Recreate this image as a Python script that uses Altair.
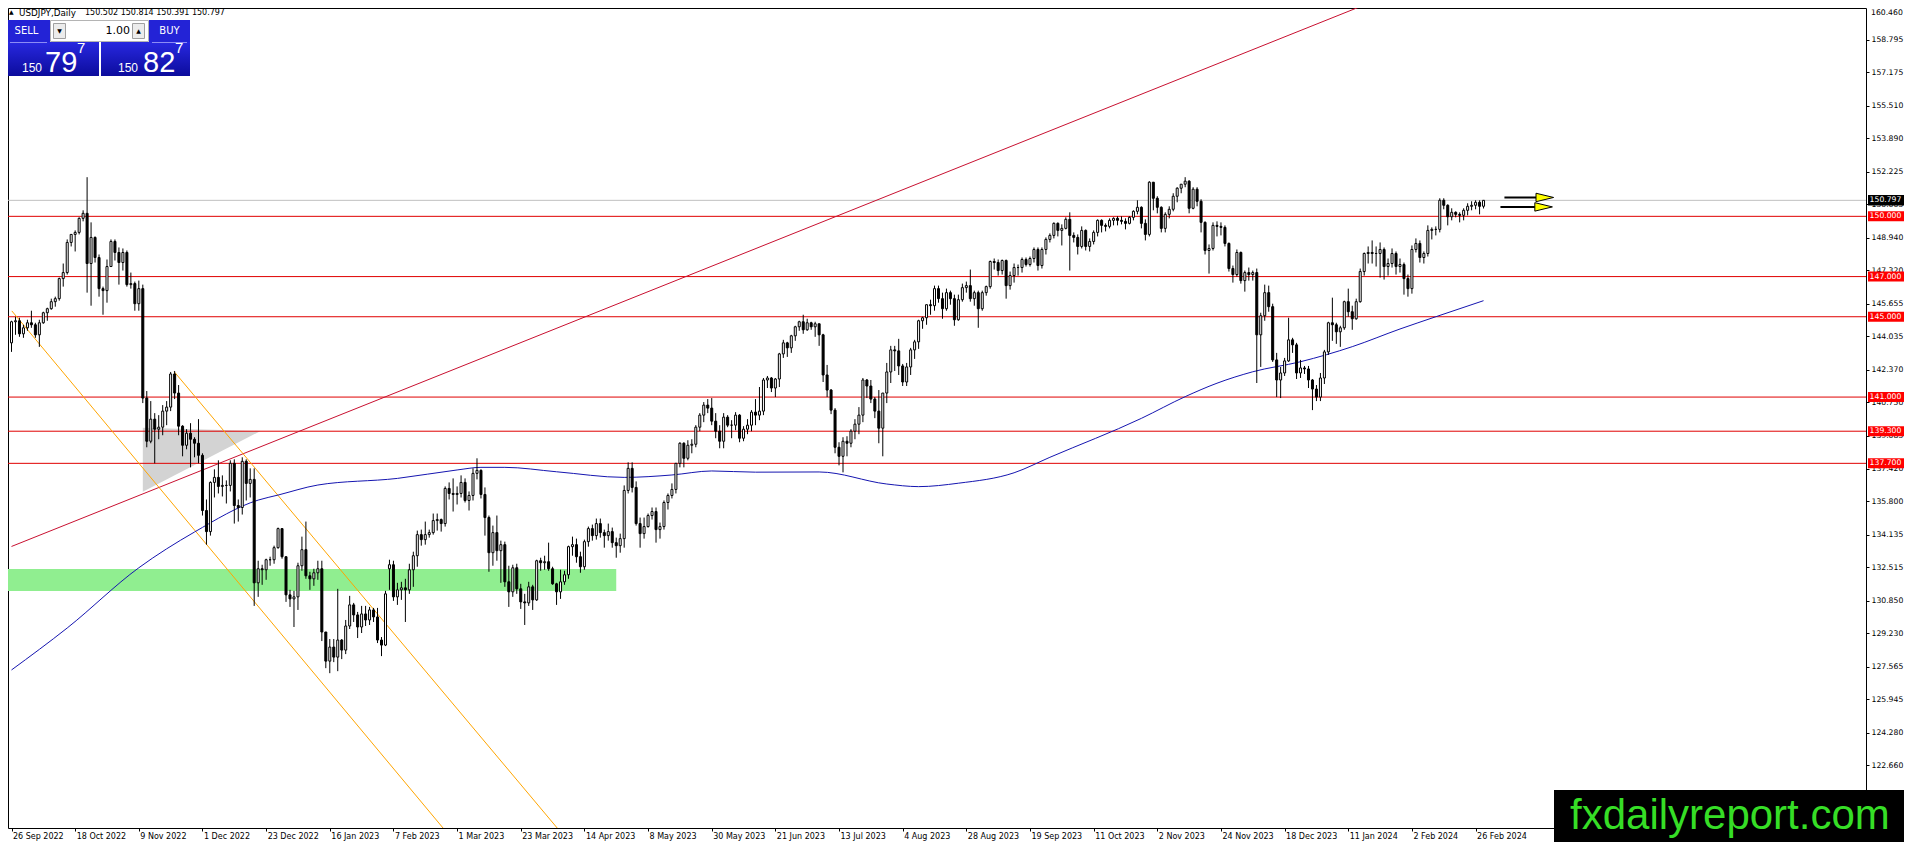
import altair as alt
import pandas as pd

# ---------------- data ----------------
opens = [
    143.70, 144.75, 144.80, 144.15, 144.45, 144.70, 144.60, 144.10, 144.70, 145.20,
    145.40, 145.75, 145.90, 146.90, 147.20, 148.70, 149.10, 149.20, 149.90, 150.15,
    147.65, 148.95, 147.95, 146.40, 146.30, 147.50, 148.75, 148.20, 147.70, 148.20,
    146.60, 146.65, 145.65, 146.40, 140.95, 138.80, 139.90, 139.40, 139.50, 140.30,
    140.50, 142.15, 141.20, 139.55, 138.60, 139.20, 138.90, 138.70, 138.10, 135.35,
    134.30, 136.75, 137.00, 136.55, 136.60, 136.60, 137.70, 135.60, 135.50, 137.80,
    136.70, 136.90, 131.75, 132.45, 132.40, 132.90, 132.90, 133.50, 134.45, 133.05,
    131.15, 130.95, 131.05, 132.60, 133.40, 132.10, 131.95, 132.25, 132.45, 129.30,
    127.85, 128.55, 128.05, 128.90, 128.40, 129.60, 130.65, 130.15, 129.55, 130.20,
    129.90, 130.40, 130.05, 128.90, 128.65, 132.45, 132.65, 131.05, 131.40, 131.50,
    131.40, 132.40, 133.10, 134.15, 133.90, 134.15, 134.25, 134.85, 134.90, 134.70,
    136.45, 136.20, 136.15, 136.20, 136.75, 135.85, 136.10, 137.20, 137.35, 136.15,
    135.00, 133.25, 134.25, 133.35, 133.65, 131.80, 131.30, 132.50, 131.45, 130.80,
    130.75, 131.55, 130.90, 132.85, 132.75, 132.80, 132.45, 131.70, 131.30, 131.80,
    132.15, 133.55, 133.65, 133.05, 132.55, 133.80, 134.45, 134.10, 134.70, 134.25,
    134.10, 134.30, 133.75, 133.60, 133.95, 136.35, 137.45, 136.50, 134.70, 134.20,
    134.55, 135.10, 135.30, 134.40, 134.55, 135.75, 136.10, 136.40, 137.70, 138.70,
    137.95, 138.60, 138.65, 139.50, 140.10, 140.60, 140.45, 139.80, 139.30, 138.80,
    140.00, 139.60, 139.60, 140.10, 138.95, 139.40, 139.60, 140.25, 140.10, 140.30,
    141.85, 141.95, 141.45, 141.90, 143.15, 143.70, 143.45, 144.05, 144.50, 144.75,
    144.35, 144.70, 144.50, 144.65, 144.10, 142.10, 141.35, 140.35, 138.50, 138.05,
    138.80, 138.70, 139.30, 139.65, 140.10, 141.85, 141.55, 140.90, 140.30, 139.45,
    141.20, 142.25, 143.35, 143.30, 142.55, 141.75, 142.50, 143.35, 143.75, 144.80,
    144.95, 145.60, 145.55, 146.40, 145.90, 145.40, 146.20, 145.90, 144.85, 145.85,
    146.45, 146.55, 145.90, 146.20, 145.40, 146.20, 146.50, 147.75, 147.70, 147.30,
    147.80, 146.55, 147.05, 147.45, 147.45, 147.85, 147.60, 147.90, 148.35, 147.55,
    148.35, 148.85, 149.05, 149.65, 149.30, 149.40, 149.85, 149.05, 148.95, 148.50,
    149.30, 148.50, 148.75, 149.20, 149.80, 149.55, 149.50, 149.80, 149.90, 149.80,
    149.75, 149.65, 149.95, 150.25, 150.45, 149.65, 149.10, 151.70, 150.90, 150.45,
    149.40, 150.10, 150.35, 151.00, 151.40, 151.60, 151.75, 150.40, 151.35, 150.75,
    149.70, 148.30, 148.40, 149.55, 149.50, 149.45, 148.65, 147.40, 147.10, 148.20,
    146.80, 147.20, 147.10, 147.20, 144.10, 145.05, 146.20, 145.50, 142.85, 141.85,
    142.20, 142.80, 143.85, 143.60, 142.20, 142.45, 142.40, 141.85, 141.40, 141.00,
    141.95, 143.25, 144.70, 144.60, 144.25, 144.45, 145.75, 145.25, 144.90, 145.75,
    147.25, 148.15, 148.20, 148.15, 148.15, 148.35, 147.50, 147.65, 148.15, 147.50,
    147.60, 146.90, 146.40, 148.35, 148.65, 147.95, 148.15, 149.30, 149.35, 149.35,
    150.80, 150.55, 149.98, 150.20, 150.10, 150.05, 150.30, 150.50, 150.55, 150.70, 150.502,
]
highs = [
    144.80, 145.00, 144.95, 144.60, 144.85, 145.30, 144.70, 144.85, 145.25, 145.45,
    145.90, 146.00, 146.95, 147.65, 148.85, 149.10, 149.30, 149.95, 150.30, 151.95,
    149.70, 149.00, 148.10, 146.50, 147.85, 148.85, 148.85, 148.45, 148.40, 148.30,
    147.20, 146.75, 146.80, 146.60, 141.30, 140.80, 140.20, 140.10, 140.60, 140.80,
    142.25, 142.30, 141.60, 139.60, 139.40, 139.70, 139.00, 139.90, 138.20, 135.90,
    136.80, 137.40, 137.85, 137.10, 136.85, 137.85, 137.90, 135.90, 138.00, 137.90,
    137.45, 137.45, 132.85, 132.65, 132.95, 133.05, 133.60, 134.50, 134.45, 133.05,
    131.40, 131.35, 132.75, 134.05, 134.80, 132.30, 132.45, 132.85, 132.85, 129.30,
    128.95, 128.95, 131.45, 128.95, 129.90, 131.10, 130.75, 130.30, 130.60, 130.60,
    130.55, 130.50, 130.50, 129.05, 131.35, 132.90, 132.85, 131.75, 131.80, 131.95,
    132.70, 133.30, 134.35, 134.40, 134.80, 134.40, 135.20, 135.20, 134.95, 136.55,
    136.75, 136.95, 136.55, 137.10, 136.95, 136.30, 137.45, 137.95, 137.40, 136.50,
    135.10, 134.60, 135.10, 133.85, 133.80, 132.60, 132.65, 132.70, 131.70, 131.20,
    131.80, 131.65, 132.90, 133.00, 133.10, 133.75, 132.55, 131.75, 132.40, 132.35,
    133.60, 134.05, 133.95, 133.30, 133.90, 134.55, 134.65, 134.95, 134.95, 134.40,
    134.70, 134.50, 134.00, 134.20, 136.60, 137.75, 137.75, 136.80, 135.00, 135.00,
    135.20, 135.50, 135.50, 134.75, 135.85, 136.20, 136.70, 137.70, 138.75, 138.75,
    138.85, 138.90, 139.60, 140.20, 140.75, 140.90, 140.95, 140.20, 139.60, 140.20,
    140.10, 139.85, 140.25, 140.15, 139.55, 139.90, 140.35, 140.90, 141.50, 141.95,
    142.05, 142.00, 141.95, 143.20, 143.85, 143.75, 144.10, 144.55, 144.80, 145.10,
    144.90, 144.75, 144.75, 144.65, 144.15, 142.60, 141.40, 140.45, 138.75, 139.00,
    139.05, 139.40, 139.90, 140.50, 141.95, 141.90, 141.85, 141.00, 141.35, 141.20,
    142.70, 143.55, 143.55, 143.90, 142.65, 142.70, 143.45, 143.85, 144.85, 145.00,
    145.60, 145.85, 146.55, 146.55, 146.20, 146.40, 146.30, 146.10, 146.10, 146.65,
    146.75, 147.35, 146.30, 146.30, 146.30, 146.55, 147.80, 147.90, 147.85, 147.85,
    147.85, 147.25, 147.65, 147.60, 147.95, 147.95, 148.00, 148.45, 148.45, 148.45,
    148.95, 149.15, 149.70, 149.70, 149.60, 149.95, 150.20, 149.20, 149.10, 149.50,
    149.35, 148.90, 149.30, 149.85, 149.85, 149.65, 149.90, 149.95, 150.00, 150.00,
    149.90, 150.00, 150.30, 150.80, 150.50, 149.85, 151.75, 151.70, 151.00, 150.50,
    150.20, 150.50, 151.15, 151.45, 151.60, 151.95, 151.80, 151.45, 151.45, 150.85,
    149.75, 148.60, 149.70, 149.75, 149.70, 149.55, 148.70, 147.55, 148.35, 148.25,
    147.30, 147.45, 147.30, 147.40, 145.20, 146.60, 146.55, 145.65, 143.20, 142.50,
    142.95, 144.95, 143.95, 143.70, 142.85, 142.55, 142.55, 141.90, 141.60, 142.20,
    143.35, 144.75, 145.95, 144.70, 144.55, 145.80, 146.40, 145.55, 145.90, 147.40,
    148.20, 148.50, 148.80, 148.50, 148.70, 148.45, 147.90, 148.40, 148.25, 147.90,
    147.70, 147.10, 148.55, 148.90, 148.80, 148.25, 149.55, 149.45, 149.50, 150.90,
    150.90, 150.60, 150.40, 150.25, 150.20, 150.40, 150.65, 150.75, 150.80, 150.80, 150.814,
]
lows = [
    143.25, 144.10, 144.00, 143.95, 144.30, 144.45, 143.95, 143.50, 144.65, 144.80,
    145.35, 145.50, 145.80, 146.50, 147.10, 148.50, 148.25, 149.10, 149.75, 146.20,
    145.55, 147.70, 146.00, 145.10, 145.70, 147.50, 147.80, 146.60, 147.30, 146.50,
    146.40, 145.30, 145.30, 140.70, 138.50, 138.70, 137.70, 138.90, 139.10, 139.60,
    140.30, 140.90, 139.10, 138.05, 138.40, 137.50, 138.00, 137.70, 135.10, 133.65,
    134.10, 136.00, 136.20, 136.05, 135.70, 136.30, 134.70, 134.80, 135.15, 135.85,
    136.00, 130.60, 131.05, 131.65, 131.90, 132.60, 132.70, 133.45, 132.95, 130.80,
    130.55, 129.55, 130.40, 132.35, 131.95, 131.40, 131.60, 131.90, 128.85, 127.50,
    127.25, 127.80, 127.35, 127.95, 128.20, 129.45, 129.80, 129.00, 129.25, 129.60,
    129.65, 129.80, 128.75, 128.10, 128.60, 131.40, 130.85, 130.65, 130.90, 129.80,
    131.20, 131.55, 132.55, 133.60, 133.65, 134.00, 134.15, 134.35, 134.30, 134.55,
    135.90, 135.30, 135.65, 136.00, 135.75, 135.35, 135.85, 136.90, 135.95, 134.10,
    132.30, 132.60, 132.85, 131.75, 131.55, 130.55, 131.05, 131.20, 130.45, 129.65,
    130.60, 130.40, 130.85, 132.35, 132.40, 132.35, 131.65, 130.65, 130.95, 131.65,
    131.95, 133.10, 132.75, 132.25, 132.40, 133.55, 133.85, 133.90, 134.00, 133.50,
    133.85, 133.50, 133.00, 133.25, 133.50, 136.20, 136.25, 134.60, 133.50, 133.95,
    134.50, 134.90, 133.75, 133.95, 134.40, 135.40, 135.95, 136.20, 137.50, 137.50,
    137.85, 138.20, 138.50, 139.30, 139.75, 140.20, 139.60, 138.95, 138.45, 138.45,
    139.50, 138.95, 139.35, 138.75, 138.80, 139.15, 139.30, 139.60, 139.85, 140.10,
    141.45, 141.25, 141.00, 141.50, 142.95, 143.00, 143.20, 143.80, 144.30, 144.15,
    144.30, 144.35, 144.00, 143.55, 141.75, 141.00, 140.15, 138.20, 137.60, 137.25,
    138.05, 138.50, 138.90, 139.15, 139.75, 140.95, 140.70, 139.95, 138.70, 138.05,
    140.70, 141.70, 142.30, 142.10, 141.55, 141.55, 142.10, 142.90, 143.40, 144.40,
    144.60, 145.10, 145.30, 145.70, 144.90, 145.30, 145.60, 144.55, 144.80, 145.75,
    146.20, 145.75, 145.55, 144.45, 145.30, 146.05, 146.40, 147.35, 147.05, 147.10,
    145.90, 146.35, 146.70, 147.05, 147.20, 147.50, 147.50, 147.70, 147.30, 147.40,
    148.10, 148.70, 148.90, 149.00, 148.55, 149.35, 147.30, 148.70, 148.10, 148.40,
    148.30, 148.25, 148.60, 149.00, 149.20, 149.25, 149.40, 149.55, 149.55, 149.60,
    149.35, 149.60, 149.80, 150.10, 149.40, 148.80, 149.00, 150.30, 150.15, 149.20,
    149.20, 149.90, 150.25, 150.70, 151.15, 151.45, 150.15, 150.35, 150.50, 149.20,
    148.10, 147.15, 148.30, 149.00, 149.05, 148.50, 147.25, 146.70, 147.00, 146.65,
    146.25, 146.80, 146.80, 141.70, 142.50, 144.80, 145.25, 142.75, 141.00, 140.95,
    142.05, 142.75, 143.20, 141.90, 141.95, 142.15, 141.45, 140.35, 140.80, 140.80,
    141.65, 143.10, 143.80, 143.65, 143.50, 144.35, 145.00, 144.35, 144.85, 145.70,
    147.05, 147.65, 147.65, 147.50, 146.95, 146.85, 147.05, 147.45, 147.10, 147.20,
    146.10, 146.00, 146.15, 148.20, 147.70, 147.65, 148.00, 148.85, 149.05, 149.20,
    150.35, 149.55, 149.80, 149.95, 149.70, 149.80, 150.05, 150.30, 150.35, 150.10, 150.391,
]
closes = [
    144.75, 144.80, 144.15, 144.45, 144.70, 144.60, 144.10, 144.70, 145.20, 145.40,
    145.75, 145.90, 146.90, 147.20, 148.70, 149.10, 149.20, 149.90, 150.15, 147.65,
    148.95, 147.95, 146.40, 146.30, 147.50, 148.75, 148.20, 147.70, 148.20, 146.60,
    146.65, 145.65, 146.40, 140.95, 138.80, 139.90, 139.40, 139.50, 140.30, 140.50,
    142.15, 141.20, 139.55, 138.60, 139.20, 138.90, 138.70, 138.10, 135.35, 134.30,
    136.75, 137.00, 136.55, 136.60, 136.60, 137.70, 135.60, 135.50, 137.80, 136.70,
    136.90, 131.75, 132.45, 132.40, 132.90, 132.90, 133.50, 134.45, 133.05, 131.15,
    130.95, 131.05, 132.60, 133.40, 132.10, 131.95, 132.25, 132.45, 129.30, 127.85,
    128.55, 128.05, 128.90, 128.40, 129.60, 130.65, 130.15, 129.55, 130.20, 129.90,
    130.40, 130.05, 128.90, 128.65, 131.20, 132.65, 131.05, 131.40, 131.50, 131.40,
    132.40, 133.10, 134.15, 133.90, 134.15, 134.25, 134.85, 134.90, 134.70, 136.45,
    136.20, 136.15, 136.20, 136.75, 135.85, 136.10, 137.20, 137.35, 136.15, 135.00,
    133.25, 134.25, 133.35, 133.65, 131.80, 131.30, 132.50, 131.45, 130.80, 130.75,
    131.55, 130.90, 132.85, 132.75, 132.80, 132.45, 131.70, 131.30, 131.80, 132.15,
    133.55, 133.65, 133.05, 132.55, 133.80, 134.45, 134.10, 134.70, 134.25, 134.10,
    134.30, 133.75, 133.60, 133.95, 136.35, 137.45, 136.50, 134.70, 134.20, 134.55,
    135.10, 135.30, 134.40, 134.55, 135.75, 136.10, 136.40, 137.70, 138.70, 137.95,
    138.60, 138.65, 139.50, 140.10, 140.60, 140.45, 139.80, 139.30, 138.80, 140.00,
    139.60, 139.60, 140.10, 138.95, 139.40, 139.60, 140.25, 140.10, 140.30, 141.85,
    141.95, 141.45, 141.90, 143.15, 143.70, 143.45, 144.05, 144.50, 144.75, 144.35,
    144.70, 144.50, 144.65, 144.10, 142.10, 141.35, 140.35, 138.50, 138.05, 138.80,
    138.70, 139.30, 139.65, 140.10, 141.85, 141.55, 140.90, 140.30, 139.45, 141.20,
    142.25, 143.35, 143.30, 142.55, 141.75, 142.50, 143.35, 143.75, 144.80, 144.95,
    145.60, 145.55, 146.40, 145.90, 145.40, 146.20, 145.90, 144.85, 145.85, 146.45,
    146.55, 145.90, 146.20, 145.40, 146.20, 146.50, 147.75, 147.70, 147.30, 147.80,
    146.55, 147.05, 147.45, 147.45, 147.85, 147.60, 147.90, 148.35, 147.55, 148.35,
    148.85, 149.05, 149.65, 149.30, 149.40, 149.85, 149.05, 148.95, 148.50, 149.30,
    148.50, 148.75, 149.20, 149.80, 149.55, 149.50, 149.80, 149.90, 149.80, 149.75,
    149.65, 149.95, 150.25, 150.45, 149.65, 149.10, 151.70, 150.90, 150.45, 149.40,
    150.10, 150.35, 151.00, 151.40, 151.60, 151.75, 150.40, 151.35, 150.75, 149.70,
    148.30, 148.40, 149.55, 149.50, 149.45, 148.65, 147.40, 147.10, 148.20, 146.80,
    147.20, 147.10, 147.20, 144.10, 145.05, 146.20, 145.50, 142.85, 141.85, 142.20,
    142.80, 143.85, 143.60, 142.20, 142.45, 142.40, 141.85, 141.40, 141.00, 141.95,
    143.25, 144.70, 144.60, 144.25, 144.45, 145.75, 145.25, 144.90, 145.75, 147.25,
    148.15, 148.20, 148.15, 148.15, 148.35, 147.50, 147.65, 148.15, 147.50, 147.60,
    146.90, 146.40, 148.35, 148.65, 147.95, 148.15, 149.30, 149.35, 149.35, 150.80,
    150.55, 149.98, 150.20, 150.10, 150.05, 150.30, 150.50, 150.55, 150.70, 150.50, 150.797,
]

# x-axis (bar index of each date label)
date_tick_bars = [0, 16, 32, 48, 64, 80, 96, 112, 128, 144, 160, 176,
                  192, 208, 224, 240, 256, 272, 288, 304, 320, 336, 352, 368]
date_labels = ["26 Sep 2022", "18 Oct 2022", "9 Nov 2022", "1 Dec 2022", "23 Dec 2022",
               "16 Jan 2023", "7 Feb 2023", "1 Mar 2023", "23 Mar 2023", "14 Apr 2023",
               "8 May 2023", "30 May 2023", "21 Jun 2023", "13 Jul 2023", "4 Aug 2023",
               "28 Aug 2023", "19 Sep 2023", "11 Oct 2023", "2 Nov 2023", "24 Nov 2023",
               "18 Dec 2023", "11 Jan 2024", "2 Feb 2024", "26 Feb 2024"]
top_price_label = 160.460
price_ticks = [158.795, 157.175, 155.510, 153.890, 152.225, 150.605, 148.940,
               147.320, 145.655, 144.035, 142.370, 140.750, 139.085, 137.420, 135.800,
               134.135, 132.515, 130.850, 129.230, 127.565, 125.945, 124.280, 122.660]

# moving average (read at sampled bars)
ma_bar = [0, 14, 32, 46, 62, 67, 77, 97, 112, 118, 124, 137, 154, 166, 176, 187, 203,
          220, 228, 238, 252, 261, 284, 295, 303, 312, 324, 337, 349, 358, 370]
ma_val = [127.41, 129.50, 132.50, 134.28, 135.87, 136.12, 136.62, 136.95, 137.37, 137.50,
          137.50, 137.28, 137.00, 137.12, 137.32, 137.26, 137.27, 136.67, 136.54, 136.71,
          137.23, 138.00, 139.94, 141.02, 141.69, 142.26, 142.76, 143.51, 144.39, 145.00, 145.80]

# drawn objects
levels = [150.000, 147.000, 145.000, 141.000, 139.300, 137.700]
bid_price = 150.797
red_trend_bar = [0, 345]
red_trend_price = [133.56, 160.92]
orange1_bar = [0.08, 112]
orange1_price = [145.29, 118.70]
orange2_bar = [40.9, 140]
orange2_price = [142.26, 118.87]
zone_bar = [-1, 152]
zone_price = [131.34, 132.44]
tri_bar = [33, 62.6]
tri_top = [139.47, 139.31]
tri_bottom = [136.29, 139.31]
arrow_price = [150.94, 150.47]
arrow_start = [375.25, 374.25]
arrow_end = [383.4, 383.4]
arrow_head = [385.4, 385.1]

header_symbol = "USDJPY,Daily"
header_ohlc = "150.502 150.814 150.391 150.797"

# ---------------- scales / axes ----------------
xs = alt.Scale(domain=[0.375, 464.875], nice=False, zero=False)
ys = alt.Scale(domain=[119.54, 160.375], nice=False, zero=False)

label_array = "[" + ",".join("'" + d + "'" for d in date_labels) + "]"
x_axis = alt.Axis(values=date_tick_bars, labelExpr=label_array + "[round(datum.value/16)]",
                  labelAlign="left", labelBaseline="top", labelOffset=1, labelPadding=1,
                  labelFont="DejaVu Sans", labelFontSize=8, labelColor="black",
                  tickColor="black", tickSize=3, domain=False, grid=False, title=None,
                  labelFlush=False, labelOverlap=False)
y_axis = alt.Axis(orient="right", values=price_ticks, format=".3f",
                  labelFont="DejaVu Sans", labelFontSize=7.7, labelColor="black",
                  tickColor="black", tickSize=3, labelPadding=2, domain=False, grid=False,
                  title=None, labelOverlap=False, labelFlush=False)


def X(f):
    return alt.X(f, type="quantitative", scale=xs, axis=x_axis)


def Y(f):
    return alt.Y(f, type="quantitative", scale=ys, axis=y_axis)


one = pd.DataFrame({"a": [0]})


def txt(s, x, y, size, color="black", font="DejaVu Sans", align="left", baseline="middle"):
    return alt.Chart(one).mark_text(align=align, baseline=baseline, font=font,
                                    fontSize=size, color=color).encode(
        x=alt.value(x), y=alt.value(y), text=alt.value(s))


def box(x1, x2, y1, y2, fill, stroke="none"):
    return alt.Chart(one).mark_rect(fill=fill, stroke=stroke, strokeWidth=1).encode(
        x=alt.value(x1), x2=alt.value(x2), y=alt.value(y1), y2=alt.value(y2))


def hline(x1, x2, y, color, w=1):
    return alt.Chart(one).mark_rule(color=color, strokeWidth=w).encode(
        x=alt.value(x1), x2=alt.value(x2), y=alt.value(y))


# ---------------- frames ----------------
n = len(closes)
assert len(opens) == n and len(highs) == n and len(lows) == n
cdf = pd.DataFrame({"i": list(range(n)), "o": opens, "h": highs, "l": lows, "c": closes})
ma_df = pd.DataFrame({"i": ma_bar, "p": ma_val})
zone_df = pd.DataFrame({"x0": [zone_bar[0]], "x1": [zone_bar[1]],
                        "p0": [zone_price[0]], "p1": [zone_price[1]]})
tri_df = pd.DataFrame({"i": tri_bar, "top": tri_top, "bot": tri_bottom})
lvl_df = pd.DataFrame({"p": levels})
lvl_df["lo"] = lvl_df["p"] - 0.25
lvl_df["hi"] = lvl_df["p"] + 0.25
bid_df = pd.DataFrame({"p": [bid_price]})
bid_df["lo"] = bid_df["p"] - 0.26
bid_df["hi"] = bid_df["p"] + 0.26
arrow_df = pd.DataFrame({"p": arrow_price, "a": arrow_start, "b": arrow_end, "h": arrow_head})
top_df = pd.DataFrame({"p": [top_price_label]})


def seg(bars, prices):
    return pd.DataFrame({"i": bars, "p": prices})


layers = []
layers.append(alt.Chart(zone_df).mark_rect(color="#90ee90", clip=True).encode(
    x=X("x0"), x2="x1", y=Y("p0"), y2="p1"))
layers.append(alt.Chart(tri_df).mark_area(color="#d3d3d3", clip=True).encode(
    x=X("i"), y=Y("top"), y2="bot"))
layers.append(alt.Chart(lvl_df).mark_rule(color="#e00000", strokeWidth=1).encode(y=Y("p")))
layers.append(alt.Chart(bid_df).mark_rule(color="#c0c0c0", strokeWidth=1).encode(y=Y("p")))
layers.append(alt.Chart(seg(red_trend_bar, red_trend_price)).mark_line(
    color="#c81030", strokeWidth=1, clip=True).encode(x=X("i"), y=Y("p")))
layers.append(alt.Chart(seg(orange1_bar, orange1_price)).mark_line(
    color="#ffa500", strokeWidth=1, clip=True).encode(x=X("i"), y=Y("p")))
layers.append(alt.Chart(seg(orange2_bar, orange2_price)).mark_line(
    color="#ffa500", strokeWidth=1, clip=True).encode(x=X("i"), y=Y("p")))
layers.append(alt.Chart(ma_df).mark_line(color="#1515b0", strokeWidth=1,
                                         interpolate="monotone", clip=True).encode(
    x=X("i"), y=Y("p")))
layers.append(alt.Chart(cdf).mark_rule(color="black", strokeWidth=1, clip=True).encode(
    x=X("i"), y=Y("l"), y2="h"))
layers.append(alt.Chart(cdf).mark_bar(size=2, stroke="black", strokeWidth=1, clip=True).encode(
    x=X("i"), y=Y("o"), y2="c",
    fill=alt.condition(alt.datum.c >= alt.datum.o, alt.value("white"), alt.value("black"))))
# arrows
layers.append(alt.Chart(arrow_df).mark_rule(color="black", strokeWidth=2).encode(
    x=X("a"), x2="b", y=Y("p")))
layers.append(alt.Chart(arrow_df).mark_point(shape="M-1,-0.48L1,0L-1,0.48Z", size=310,
                                             filled=True, fill="#ffff00", stroke="black",
                                             strokeWidth=1, opacity=1).encode(
    x=X("h"), y=Y("p")))
# topmost price label (sits at the very top edge)
layers.append(alt.Chart(top_df).mark_text(color="black", font="DejaVu Sans", fontSize=7.7,
                                          align="left", baseline="middle", dy=7).encode(
    x=alt.value(1863), y=Y("p"), text=alt.Text("p:Q", format=".3f")))
# price label boxes
layers.append(alt.Chart(lvl_df).mark_rect(color="#ff0000").encode(
    x=alt.value(1860), x2=alt.value(1896), y=Y("lo"), y2="hi"))
layers.append(alt.Chart(lvl_df).mark_text(color="white", font="DejaVu Sans", fontSize=7.7,
                                          align="center", baseline="middle").encode(
    x=alt.value(1877.5), y=Y("p"), text=alt.Text("p:Q", format=".3f")))
layers.append(alt.Chart(bid_df).mark_rect(color="black").encode(
    x=alt.value(1860), x2=alt.value(1896), y=Y("lo"), y2="hi"))
layers.append(alt.Chart(bid_df).mark_text(color="white", font="DejaVu Sans", fontSize=7.7,
                                          align="center", baseline="middle").encode(
    x=alt.value(1877.5), y=Y("p"), text=alt.Text("p:Q", format=".3f")))

# header
layers.append(txt("\u25b2", 1, 1, 6, baseline="top"))
layers.append(txt(header_symbol, 11, 0.5, 8.8, baseline="top"))
layers.append(txt(header_ohlc, 77, 0.5, 8, baseline="top"))

# one-click trading panel
grad = alt.LinearGradient(gradient="linear", x1=0, x2=0, y1=0, y2=1,
                          stops=[alt.GradientStop(color="#2828e0", offset=0),
                                 alt.GradientStop(color="#0c0c9c", offset=1)])
layers.append(box(-1, 42, 12, 34, "#2323d6"))
layers.append(box(-1, 91, 34, 68, grad))
layers.append(box(141, 182, 12, 34, "#2323d6"))
layers.append(box(93, 182, 34, 68, grad))
layers.append(box(42.5, 140.5, 12.5, 33.5, "white", "#b4b4b4"))
layers.append(box(45.5, 57.5, 15.5, 30.5, "#ececec", "#a0a0a0"))
layers.append(box(124.5, 136.5, 15.5, 30.5, "#ececec", "#a0a0a0"))
layers.append(txt("\u25bc", 51.5, 23, 6, align="center"))
layers.append(txt("\u25b2", 130.5, 23, 6, align="center"))
layers.append(txt("1.00", 122, 23, 11, align="right"))
layers.append(hline(2, 39, 34.5, "#8c8cf5"))
layers.append(hline(144, 179, 34.5, "#8c8cf5"))
layers.append(txt("SELL", 18.5, 23, 10, color="white", align="center"))
layers.append(txt("BUY", 161.5, 23, 10, color="white", align="center"))
layers.append(txt("150", 14, 64, 12, color="white", font="Liberation Sans", baseline="alphabetic"))
layers.append(txt("79", 37, 64, 29, color="white", font="Liberation Sans", baseline="alphabetic"))
layers.append(txt("7", 69, 45, 15, color="white", font="Liberation Sans", baseline="alphabetic"))
layers.append(txt("150", 110, 64, 12, color="white", font="Liberation Sans", baseline="alphabetic"))
layers.append(txt("82", 135, 64, 29, color="white", font="Liberation Sans", baseline="alphabetic"))
layers.append(txt("7", 167, 45, 15, color="white", font="Liberation Sans", baseline="alphabetic"))

# watermark
layers.append(box(1546, 1896, 782, 834, "black"))
layers.append(txt("fxdailyreport.com", 1562, 821, 42, color="#36de26",
                  font="Liberation Sans", baseline="alphabetic"))

chart = alt.layer(*layers).properties(
    width=1858, height=820,
    padding={"left": 0, "top": 0, "right": 38, "bottom": 14},
    autosize=alt.AutoSizeParams(type="none"),
    background="white",
).configure_view(stroke="black", strokeWidth=1)

chart.save("out.html", embed_options={"renderer": "svg", "actions": False})
